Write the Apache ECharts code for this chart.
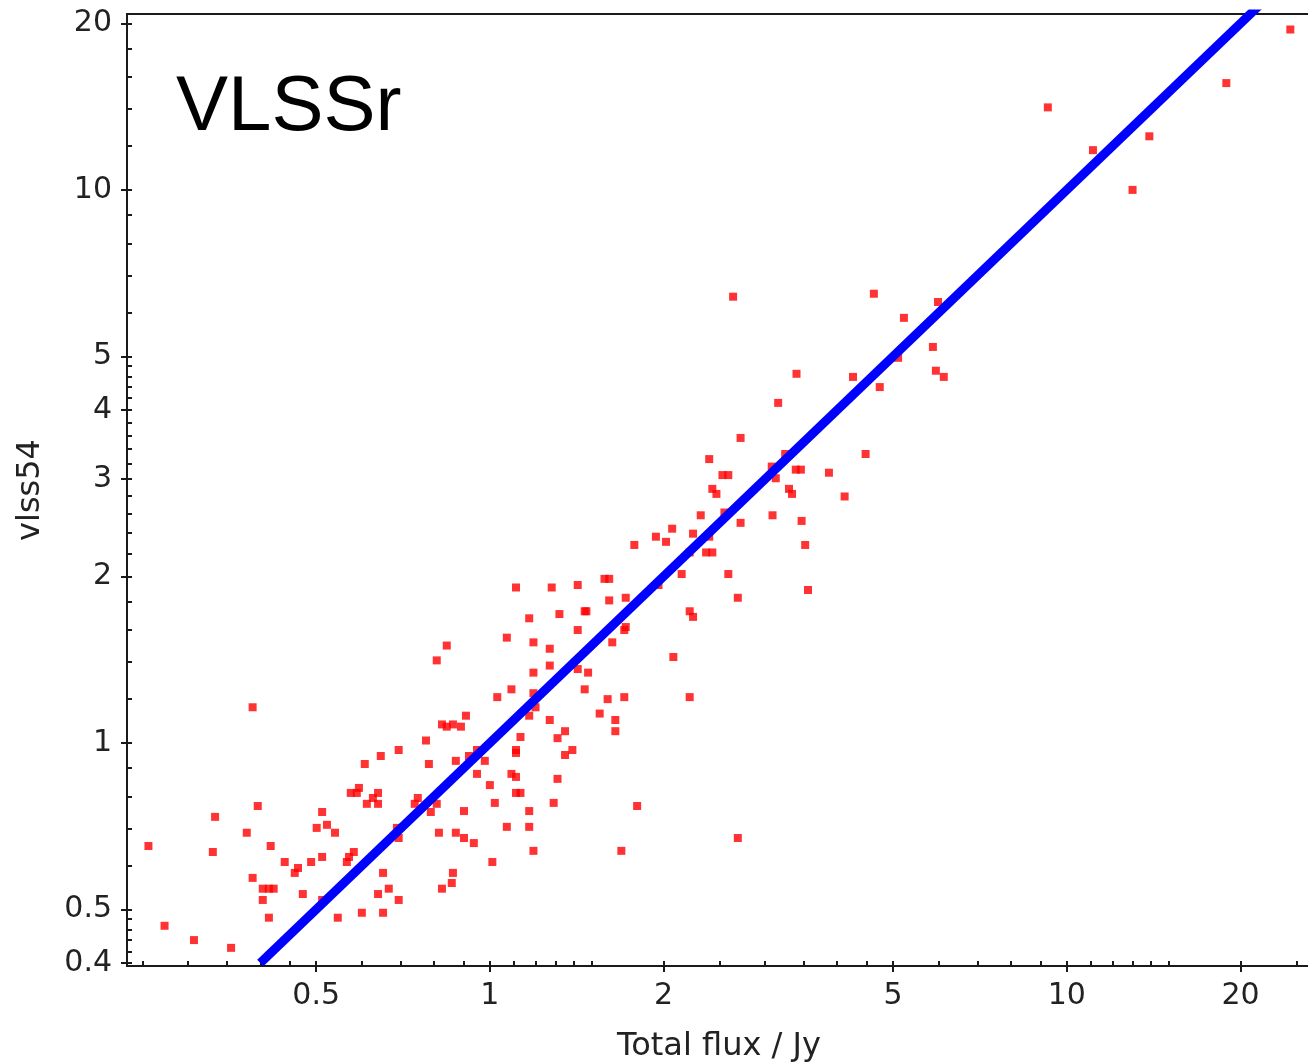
<!DOCTYPE html>
<html>
<head>
<meta charset="utf-8">
<title>VLSSr: vlss54 vs total flux</title>
<script src="https://cdn.jsdelivr.net/npm/echarts@6.0.0/dist/echarts.min.js"></script>
<style>
  html, body { margin: 0; padding: 0; background: #ffffff; }
  #chart { width: 1308px; height: 1062px; }
</style>
</head>
<body>
<div id="chart"></div>
<script>
// Source fluxes (Jy): total flux on x, VLSS 74 MHz (vlss54) on y.
const X_FLUX = [
  24.4, 18.9, 9.27, 13.9, 11.1, 13.0, 4.63, 5.98, 5.22, 5.86,
  5.10, 5.93, 6.12, 4.26, 4.74, 2.64, 3.40, 3.16, 2.72, 4.48,
  2.40, 3.25, 3.87, 2.53, 2.59, 3.08, 3.39, 3.46, 3.13, 2.43,
  2.47, 3.30, 3.34, 4.12, 2.32, 2.55, 2.72, 3.09, 3.47, 3.52,
  2.07, 1.94, 2.02, 2.25, 2.40, 2.37, 2.43, 2.22, 2.15, 2.59,
  1.96, 2.69, 3.56, 2.22, 2.25, 1.78, 1.11, 1.28, 1.42, 1.58,
  1.61, 1.72, 1.61, 1.17, 1.32, 1.46, 1.47, 1.07, 1.19, 1.27,
  1.42, 1.63, 1.71, 1.72, 2.08, 1.27, 1.19, 1.42, 1.48, 1.46,
  0.842, 0.809, 1.09, 1.03, 1.19, 1.20, 1.17, 1.60, 1.71, 2.22,
  1.55, 1.65, 1.65, 1.27, 1.35, 1.31, 1.13, 1.39, 1.35, 1.11,
  1.11, 0.909, 0.826, 0.842, 0.863, 0.891, 0.775, 0.873, 0.920, 0.950,
  0.980, 0.950, 1.00, 1.09, 1.11, 1.31, 1.02, 1.11, 1.13, 1.29,
  0.902, 1.17, 1.80, 1.07, 1.17, 0.873, 0.902, 0.938, 1.19, 1.69,
  2.69, 1.01, 0.863, 0.859, 0.388, 0.695, 0.647, 0.607, 0.784, 0.809,
  0.790, 0.741, 0.750, 0.574, 0.588, 0.593, 0.640, 0.627, 0.612, 0.640,
  0.512, 0.501, 0.522, 0.539, 0.690, 0.695, 0.816, 0.826, 0.396, 0.379,
  0.334, 0.331, 0.256, 0.417, 0.388, 0.441, 0.459, 0.465, 0.490, 0.512,
  0.565, 0.581, 0.570, 0.404, 0.414, 0.422, 0.404, 0.414, 0.474, 0.512,
  0.545, 0.600, 0.653, 0.640, 0.668, 0.695, 0.653, 0.273, 0.307, 0.356
];
const Y_VLSS = [
  19.5, 15.6, 14.1, 12.5, 11.8, 10.0, 6.49, 6.27, 5.87, 5.20,
  4.97, 4.71, 4.59, 4.59, 4.40, 6.41, 4.65, 4.12, 3.56, 3.33,
  3.26, 3.33, 3.08, 3.05, 3.05, 3.16, 3.12, 3.12, 3.01, 2.88,
  2.82, 2.88, 2.82, 2.79, 2.58, 2.61, 2.50, 2.58, 2.52, 2.28,
  2.44, 2.36, 2.31, 2.39, 2.36, 2.21, 2.21, 2.21, 2.02, 2.02,
  1.93, 1.83, 1.89, 1.73, 1.69, 2.28, 1.91, 1.91, 1.93, 1.98,
  1.98, 1.83, 1.81, 1.68, 1.71, 1.73, 1.73, 1.55, 1.52, 1.48,
  1.60, 1.52, 1.60, 1.62, 1.43, 1.38, 1.34, 1.36, 1.34, 1.25,
  1.50, 1.41, 1.25, 1.21, 1.23, 1.16, 1.12, 1.20, 1.21, 1.21,
  1.13, 1.10, 1.05, 1.10, 1.05, 1.02, 1.025, 0.971, 0.951, 0.971,
  0.959, 1.12, 1.08, 1.07, 1.08, 1.07, 1.01, 0.928, 0.947, 0.971,
  0.928, 0.879, 0.839, 0.879, 0.868, 0.861, 0.779, 0.812, 0.812, 0.779,
  0.753, 0.753, 0.769, 0.705, 0.705, 0.688, 0.673, 0.659, 0.638, 0.638,
  0.673, 0.609, 0.582, 0.558, 1.16, 0.971, 0.947, 0.916, 0.916, 0.776,
  0.750, 0.776, 0.795, 0.812, 0.812, 0.829, 0.812, 0.795, 0.776, 0.776,
  0.750, 0.702, 0.711, 0.688, 0.702, 0.673, 0.688, 0.545, 0.769, 0.688,
  0.735, 0.635, 0.651, 0.651, 0.570, 0.609, 0.582, 0.594, 0.609, 0.622,
  0.609, 0.635, 0.622, 0.545, 0.545, 0.545, 0.520, 0.483, 0.533, 0.520,
  0.483, 0.493, 0.582, 0.533, 0.545, 0.520, 0.493, 0.467, 0.440, 0.426
];

// One-to-one reference line (vlss54 = total flux).
const FIT_X = [0.4, 22];
const FIT_Y = [0.4, 22];

// Axis extents and tick marks.
const X_RANGE = [0.235, 26.5];
const Y_RANGE = [0.395, 20.8];
const X_MAJOR_TICKS = [0.5, 1, 2, 5, 10, 20];
const X_MINOR_TICKS = [0.25, 0.3, 0.35, 0.4, 0.45, 0.6, 0.7, 0.8, 0.9,
  1.1, 1.2, 1.3, 1.4, 1.5, 2.5, 3, 3.5, 4, 4.5, 6, 7, 8, 9,
  11, 12, 13, 14, 15, 25];
const Y_MAJOR_TICKS = [0.4, 0.5, 1, 2, 3, 4, 5, 10, 20];
const Y_MINOR_TICKS = [0.42, 0.44, 0.46, 0.48, 0.6, 0.7, 0.8, 0.9,
  1.2, 1.4, 1.6, 1.8, 2.2, 2.4, 2.6, 2.8, 3.2, 3.4, 3.6, 3.8,
  4.2, 4.4, 4.6, 4.8, 6, 7, 8, 9, 12, 14, 16, 18];

const lg = Math.log10;
const INK = '#1a1a1a';
const TICK_FONT = { fontFamily: 'DejaVu Sans', fontSize: 30, color: '#222222' };
const NAME_FONT = { fontFamily: 'DejaVu Sans', fontSize: 32, color: '#222222' };

// Tick labels of the decade-scaled helper axes, shown as plain flux values.
function tickLabel(v) {
  return String(Number(Math.pow(10, v).toPrecision(3)));
}

// Data axis: logarithmic, carries the points and the axis line.
function dataAxis(range, position) {
  return {
    type: 'log', logBase: 10, position: position,
    min: range[0], max: range[1],
    axisLine: { show: true, onZero: false, lineStyle: { color: INK, width: 2 } },
    axisTick: { show: false }, axisLabel: { show: false },
    splitLine: { show: false }, minorTick: { show: false }
  };
}

// Tick-only axis spanning the same decades; used for inner minor/major ticks.
function innerTickAxis(range, ticks, position) {
  return {
    type: 'value', position: position,
    min: lg(range[0]), max: lg(range[1]),
    axisLine: { show: false, onZero: false },
    axisTick: { show: true, inside: true, length: 5, customValues: ticks.map(lg),
      lineStyle: { color: INK, width: 2 } },
    axisLabel: { show: false }, splitLine: { show: false }
  };
}

// Labelled axis: outer ticks and labels at the major values, plus the axis title.
function labelAxis(range, ticks, position, name, nameGap) {
  return {
    type: 'value', position: position,
    min: lg(range[0]), max: lg(range[1]),
    axisLine: { show: false, onZero: false },
    axisTick: { show: true, inside: false, length: 6, customValues: ticks.map(lg),
      lineStyle: { color: INK, width: 2 } },
    axisLabel: Object.assign({ show: true, customValues: ticks.map(lg),
      formatter: tickLabel, margin: 15 }, TICK_FONT),
    splitLine: { show: false },
    name: name, nameLocation: 'middle', nameGap: nameGap,
    nameTextStyle: NAME_FONT
  };
}

const chart = echarts.init(document.getElementById('chart'), null, { renderer: 'canvas' });

chart.setOption({
  animation: false,
  backgroundColor: '#ffffff',
  title: {
    text: 'VLSSr', left: 171, top: 64,
    textStyle: { fontFamily: 'Liberation Sans', fontSize: 78, fontWeight: 'normal', color: '#000000' }
  },
  grid: {
    left: 127, top: 14, right: -3, bottom: 96,
    show: true, borderColor: INK, borderWidth: 2, backgroundColor: 'transparent',
    containLabel: false, outerBoundsMode: 'none'
  },
  xAxis: [
    dataAxis(X_RANGE, 'bottom'),
    innerTickAxis(X_RANGE, X_MINOR_TICKS.concat(X_MAJOR_TICKS), 'bottom'),
    labelAxis(X_RANGE, X_MAJOR_TICKS, 'bottom', 'Total flux / Jy', 65)
  ],
  yAxis: [
    dataAxis(Y_RANGE, 'left'),
    innerTickAxis(Y_RANGE, Y_MINOR_TICKS.concat(Y_MAJOR_TICKS), 'left'),
    labelAxis(Y_RANGE, Y_MAJOR_TICKS, 'left', 'vlss54', 80)
  ],
  series: [
    {
      name: 'sources', type: 'scatter', xAxisIndex: 0, yAxisIndex: 0,
      symbol: 'rect', symbolSize: 8,
      itemStyle: { color: '#ff0000' },
      data: X_FLUX.map((x, i) => [x, Y_VLSS[i]]),
      z: 2
    },
    {
      name: 'one-to-one', type: 'line', xAxisIndex: 0, yAxisIndex: 0,
      showSymbol: false, symbol: 'none', clip: true,
      lineStyle: { color: '#0000ff', width: 9 },
      data: FIT_X.map((x, i) => [x, FIT_Y[i]]),
      z: 3
    }
  ]
});
</script>
</body>
</html>
